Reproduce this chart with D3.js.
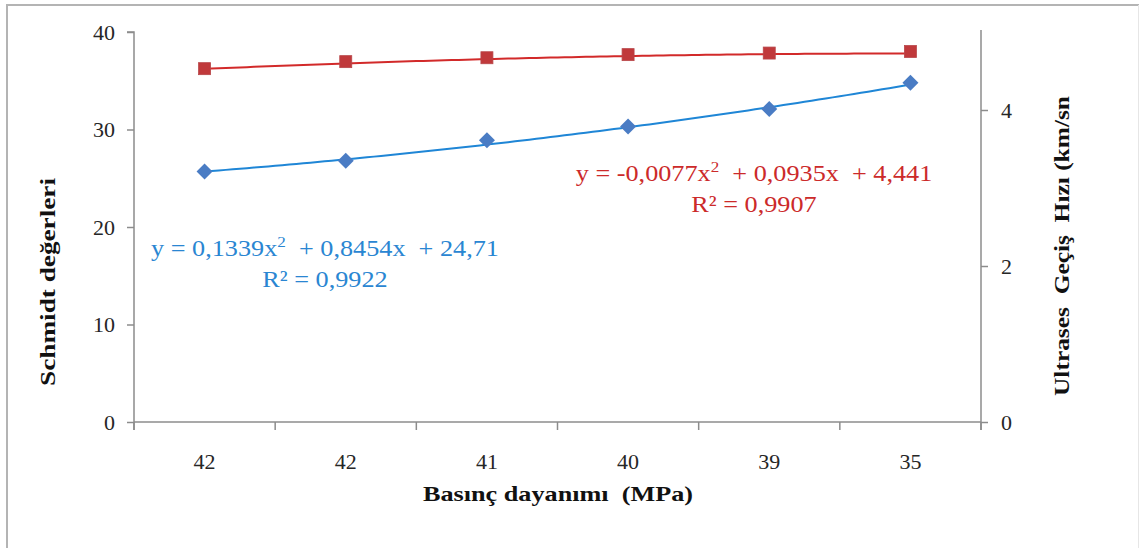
<!DOCTYPE html>
<html><head><meta charset="utf-8">
<script src="https://cdn.jsdelivr.net/npm/d3@7"></script>
<style>body{margin:0;background:#fff;}svg{display:block;}</style>
</head><body>
<svg id="c" width="1139" height="548"></svg>
<script>
const categories = ["42", "42", "41", "40", "39", "35"];
const schmidt = [25.7, 26.8, 28.9, 30.3, 32.1, 34.8];
const ultrases = [4.53, 4.62, 4.67, 4.71, 4.73, 4.75];
const leftTicks = [0, 10, 20, 30, 40];
const rightTicks = [0, 2, 4];
const schmidtFit = [0.1339, 0.8454, 24.71];   // a, b, c
const ultrasesFit = [-0.0077, 0.0935, 4.441];

const svg = d3.select("#c");
const L = 134, R = 981, T = 32, B = 422;
const x = d3.scaleBand().domain(d3.range(categories.length)).range([L, R]);
const yL = d3.scaleLinear().domain([0, 40]).range([B, T]);
const yR = d3.scaleLinear().domain([0, 5]).range([B, T]);
const serif = "'Liberation Serif','Times New Roman',serif";
const axisCol = "#8c8c8c";
const tickFont = 22;

// frame
svg.append("line").attr("x1",7).attr("x2",7).attr("y1",4).attr("y2",548).attr("stroke","#b4b4b4").attr("stroke-width",2);
svg.append("line").attr("x1",6).attr("x2",1139).attr("y1",5).attr("y2",5).attr("stroke","#b4b4b4").attr("stroke-width",2);
svg.append("line").attr("x1",1138.5).attr("x2",1138.5).attr("y1",5).attr("y2",548).attr("stroke","#e6e6e6").attr("stroke-width",1);

// axes
const gL = svg.append("g").attr("transform",`translate(${L},0)`)
  .call(d3.axisLeft(yL).tickValues(leftTicks).tickSize(7).tickPadding(12).tickFormat(d3.format("d")));
const gR = svg.append("g").attr("transform",`translate(${R},0)`)
  .call(d3.axisRight(yR).tickValues(rightTicks).tickSize(7).tickPadding(13).tickFormat(d3.format("d")));
const gX = svg.append("g").attr("transform",`translate(0,${B})`)
  .call(d3.axisBottom(x).tickValues([]).tickSize(0));
const bounds = d3.range(categories.length + 1).map(i => L + i * x.step());
gX.selectAll(".bt").data(bounds).enter().append("line")
  .attr("x1", d => d).attr("x2", d => d).attr("y1", 0).attr("y2", 8).attr("stroke", axisCol).attr("stroke-width", 1.5);
gX.selectAll(".lab").data(categories).enter().append("text")
  .attr("x", (d, i) => x(i) + x.bandwidth() / 2).attr("y", 47)
  .attr("text-anchor", "middle").attr("font-family", serif).attr("font-size", tickFont).attr("fill", "#262626").text(d => d);

[gL, gR, gX].forEach(g => {
  g.selectAll(".domain").attr("stroke", axisCol).attr("stroke-width", 1.5);
  g.selectAll(".tick line").attr("stroke", axisCol).attr("stroke-width", 1.5);
  g.selectAll(".tick text").attr("font-family", serif).attr("font-size", tickFont).attr("fill", "#262626");
});
gL.select(".domain").attr("d", `M-7,${T}H0V${B + 8}`);
gR.select(".domain").attr("d", `M0,${T - 2}V${B + 8}`);
gX.select(".domain").attr("d", `M${L},0H${R}`);

// trendlines
const cx = i => x(i) + x.bandwidth() / 2;
function fitPts(fit, ys) {
  const n = categories.length, pts = [];
  for (let k = 0; k <= 100; k++) {
    const t = 1 + (n - 1) * k / 100;
    const v = fit[0] * t * t + fit[1] * t + fit[2];
    pts.push([cx(0) + (t - 1) * x.step(), ys(v)]);
  }
  return pts;
}
svg.append("path").attr("d", d3.line()(fitPts(ultrasesFit, yR)))
  .attr("fill", "none").attr("stroke", "#d22a2a").attr("stroke-width", 2);
svg.append("path").attr("d", d3.line()(fitPts(schmidtFit, yL)))
  .attr("fill", "none").attr("stroke", "#1f86d6").attr("stroke-width", 2);

// markers
svg.selectAll(".sq").data(ultrases).enter().append("rect")
  .attr("x", (d, i) => cx(i) - 6).attr("y", d => yR(d) - 6).attr("width", 12).attr("height", 12)
  .attr("fill", "#c0393b").attr("stroke", "#b8474a").attr("stroke-width", 0.8);
svg.selectAll(".dm").data(schmidt).enter().append("path")
  .attr("d", "M0,-8L8,0L0,8L-8,0Z")
  .attr("transform", (d, i) => `translate(${cx(i)},${yL(d)})`)
  .attr("fill", "#4a7cc4");

// equations
function eq(xc, y, a, b, c, r2, col) {
  const g = svg.append("g").attr("transform", `translate(${xc},${y}) scale(1.14,1)`);
  const t = g.append("text").attr("text-anchor", "middle").attr("xml:space", "preserve")
    .attr("font-family", serif).attr("font-size", 23).attr("fill", col);
  t.append("tspan").text(`y = ${a}x`);
  t.append("tspan").attr("dy", -9).attr("font-size", 15).text("2");
  t.append("tspan").attr("dy", 9).text(`  + ${b}x  + ${c}`);
  g.append("text").attr("y", 31).attr("text-anchor", "middle")
    .attr("font-family", serif).attr("font-size", 23).attr("fill", col).text(`R² = ${r2}`);
}
eq(325, 256, "0,1339", "0,8454", "24,71", "0,9922", "#2a86d2");
eq(754, 181, "-0,0077", "0,0935", "4,441", "0,9907", "#cc2a2a");

// axis titles
function title(tr, txt, len) {
  svg.append("text").attr("transform", tr).attr("text-anchor", "middle")
    .attr("font-family", serif).attr("font-weight", "bold").attr("font-size", 22).attr("fill", "#111")
    .attr("xml:space", "preserve").attr("textLength", len).attr("lengthAdjust", "spacingAndGlyphs")
    .text(txt);
}
title("translate(558,501)", "Basınç dayanımı  (MPa)", 270);
title("translate(55,282) rotate(-90)", "Schmidt değerleri", 208);
title("translate(1069,246) rotate(-90)", "Ultrases  Geçiş  Hızı (km/sn", 300);
</script>
</body></html>
